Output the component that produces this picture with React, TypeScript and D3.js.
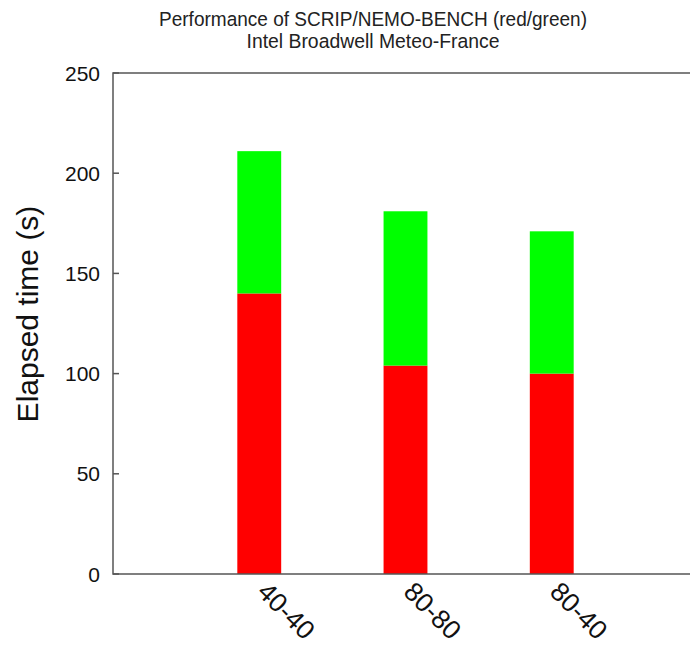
import React from "react";
import * as d3 from "d3";

const categories = ["40-40", "80-80", "80-40"];
const scripValues = [140, 104, 100];
const nemoValues = [71, 77, 71];
const yTicks = [0, 50, 100, 150, 200, 250];
const titleLines = ["Performance of SCRIP/NEMO-BENCH (red/green)", "Intel Broadwell Meteo-France"];
const titleWidths = [428, 253];
const yLabel = "Elapsed time (s)";

const W = 690, H = 646;
const left = 113, top = 73, bottom = 574, right = 698;
const font = "'Liberation Sans', Arial, Helvetica, sans-serif";

export default function App() {
  const x = d3.scaleLinear().domain([0, 4]).range([left, right]);
  const y = d3.scaleLinear().domain([0, 250]).range([bottom, top]);
  const bw = (x(1) - x(0)) * 0.3;
  const series = d3.stack<any>().keys(["scrip", "nemo"])(
    categories.map((c, i) => ({ c, scrip: scripValues[i], nemo: nemoValues[i] }))
  );
  const colors = ["#ff0000", "#00ff00"];
  return (
    <svg width={W} height={H} style={{ position: "absolute", left: 0, top: 0, background: "#fff" }} fontFamily={font}>
      <rect x={0} y={0} width={W} height={H} fill="#fff" />
      {titleLines.map((t, i) => (
        <text key={i} x={373} y={26 + i * 22} textAnchor="middle" fontSize={20.5} fill="#222"
          textLength={titleWidths[i]} lengthAdjust="spacingAndGlyphs">{t}</text>
      ))}
      {series.map((s, si) =>
        s.map((d, i) => (
          <rect key={si + "-" + i} x={x(i + 1) - bw / 2} width={bw} y={y(d[1])} height={y(d[0]) - y(d[1])} fill={colors[si]} />
        ))
      )}
      <path d={`M${right},${top}H${left}V${bottom}H${right}`} fill="none" stroke="#555" strokeWidth={1.5} />
      {yTicks.map((t) => (
        <g key={t}>
          <line x1={left} x2={left + 6} y1={y(t)} y2={y(t)} stroke="#555" strokeWidth={1.5} />
          <text x={100} y={y(t)} dy="0.36em" textAnchor="end" fontSize={21} fill="#111">{t}</text>
        </g>
      ))}
      {categories.map((c, i) => (
        <text key={c} transform={`translate(${x(i + 1) + 6},${bottom + 10}) rotate(45)`} fontSize={26.5} fill="#111" dy="0.5em">{c}</text>
      ))}
      <text transform={`translate(38,314) rotate(-90)`} textAnchor="middle" fontSize={30} fill="#111">{yLabel}</text>
    </svg>
  );
}
